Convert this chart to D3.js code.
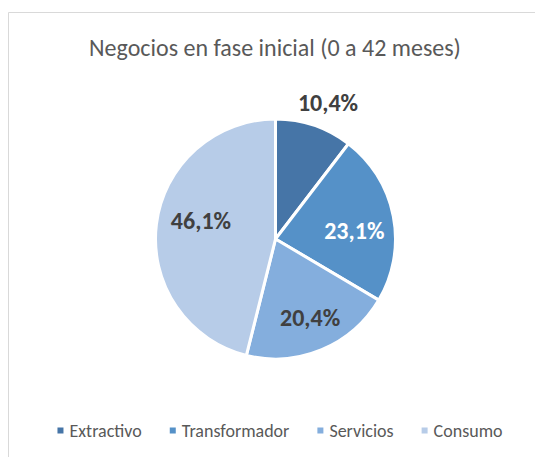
<!DOCTYPE html>
<html>
<head>
<meta charset="utf-8">
<script src="https://cdn.jsdelivr.net/npm/d3@7"></script>
<style>
  body { margin: 0; background: #fff; }
  svg { display: block; font-family: Carlito, Lato, sans-serif; }
</style>
</head>
<body>
<script>
// data
var categories = ["Extractivo", "Transformador", "Servicios", "Consumo"];
var values = [10.4, 23.1, 20.4, 46.1];
var title = "Negocios en fase inicial (0 a 42 meses)";

// style
var colors = ["#4675a7", "#5591c8", "#84aedd", "#b7cce8"];
var labelColors = ["#404040", "#ffffff", "#404040", "#404040"];
var labelRadius = [1.22, 0.66, 0.72, 0.64];   // fraction of pie radius
var labelShift = [2.3, 5.2, -0.9, 6.9];        // degrees, best-fit nudge

var w = 535, h = 457;
var cx = 275.5, cy = 239, r = 120;

var svg = d3.select("body").append("svg").attr("width", w).attr("height", h);

// chart area border (only top/left are inside the crop)
svg.append("path")
    .attr("d", "M8.5," + h + "V12.5H" + w)
    .attr("fill", "none")
    .attr("stroke", "#d9d9d9")
    .attr("stroke-width", 1);

svg.append("text")
    .text(title)
    .attr("x", 275)
    .attr("y", 56)
    .attr("text-anchor", "middle")
    .attr("font-size", "24px")
    .attr("fill", "#595959");

var pie = d3.pie().sort(null).value(function(d) { return d; });
var arcs = pie(values);
var arc = d3.arc().innerRadius(0).outerRadius(r);

var g = svg.append("g").attr("transform", "translate(" + cx + "," + cy + ")");

g.selectAll("path.slice")
    .data(arcs)
    .enter()
    .append("path")
    .attr("class", "slice")
    .attr("d", arc)
    .attr("fill", function(d, i) { return colors[i]; })
    .attr("stroke", "#fff")
    .attr("stroke-width", 3)
    .attr("stroke-linejoin", "round");

var fmt = function(v) { return d3.format(".1f")(v).replace(".", ",") + "%"; };

g.selectAll("text.lbl")
    .data(arcs)
    .enter()
    .append("text")
    .attr("class", "lbl")
    .text(function(d) { return fmt(d.data); })
    .attr("transform", function(d, i) {
        var a = (d.startAngle + d.endAngle) / 2 + labelShift[i] * Math.PI / 180;
        var rr = r * labelRadius[i];
        return "translate(" + (Math.sin(a) * rr) + "," + (-Math.cos(a) * rr) + ")";
    })
    .attr("text-anchor", "middle")
    .attr("dy", "0.34em")
    .attr("font-size", "24px")
    .attr("font-weight", "bold")
    .attr("fill", function(d, i) { return labelColors[i]; });

// legend
var legend = svg.append("g");
var items = legend.selectAll("g")
    .data(categories)
    .enter()
    .append("g");

items.append("rect")
    .attr("x", 0)
    .attr("y", -9.5)
    .attr("width", 6)
    .attr("height", 6)
    .attr("fill", function(d, i) { return colors[i]; });

items.append("text")
    .text(function(d) { return d; })
    .attr("x", 12)
    .attr("y", 0)
    .attr("font-size", "18px")
    .attr("fill", "#595959");

var gap = 28;
var x = 0, pos = [];
items.each(function(d, i) {
    var tw = d3.select(this).select("text").node().getComputedTextLength();
    pos.push(x);
    x += 12 + tw + gap;
});
var total = x - gap;
items.attr("transform", function(d, i) { return "translate(" + pos[i] + ",0)"; });
legend.attr("transform", "translate(" + (280 - total / 2) + ",437)");
</script>
</body>
</html>
